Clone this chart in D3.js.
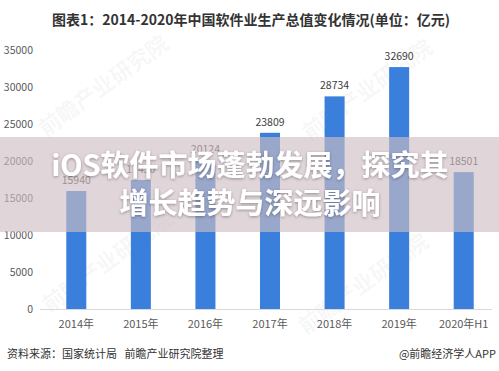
<!DOCTYPE html>
<html>
<head>
<meta charset="utf-8">
<script src="https://cdn.jsdelivr.net/npm/d3@7"></script>
<style>
  body { margin: 0; background: #fff; }
  svg { display: block; font-family: "Noto Sans CJK SC", "Noto Sans", sans-serif; }
</style>
</head>
<body>
<svg width="499" height="371"></svg>
<script>
// chart data
var years = ["2014年", "2015年", "2016年", "2017年", "2018年", "2019年", "2020年H1"];
var values = [15940, 17430, 20124, 23809, 28734, 32690, 18501];
var yTicks = [0, 5000, 10000, 15000, 20000, 25000, 30000, 35000];

var titleText = "图表1：2014-2020年中国软件业生产总值变化情况(单位：亿元)";
var overlayLines = ["iOS软件市场蓬勃发展，探究其", "增长趋势与深远影响"];
var sourceText = "资料来源：国家统计局   前瞻产业研究院整理";
var creditText = "@前瞻经济学人APP";

var svg = d3.select("svg");

var x = d3.scaleBand()
  .domain(years)
  .range([44, 496])
  .paddingInner(0.69)
  .paddingOuter(0.345);

var y = d3.scaleLinear()
  .domain([0, 35000])
  .range([309, 50]);

// faint watermarks
var marks = [[108, 92], [372, 96], [112, 268], [368, 290]];
svg.selectAll(".wm")
  .data(marks)
  .enter().append("text")
  .attr("class", "wm")
  .attr("transform", function(d) { return "translate(" + d[0] + "," + d[1] + ") rotate(-36)"; })
  .attr("text-anchor", "middle")
  .attr("font-size", 22)
  .attr("font-weight", "bold")
  .attr("fill", "#000")
  .attr("fill-opacity", 0.05)
  .text("前瞻产业研究院");

// title
svg.append("text")
  .attr("x", 251)
  .attr("y", 25)
  .attr("text-anchor", "middle")
  .attr("font-size", 14)
  .attr("font-weight", "bold")
  .attr("fill", "#333")
  .text(titleText);

// y tick labels
svg.selectAll(".ytick")
  .data(yTicks)
  .enter().append("text")
  .attr("class", "ytick")
  .attr("x", 33)
  .attr("y", function(d) { return y(d); })
  .attr("dy", "0.35em")
  .attr("text-anchor", "end")
  .attr("font-size", 10.5)
  .attr("fill", "#595959")
  .text(function(d) { return d; });

// baseline
svg.append("line")
  .attr("x1", 40).attr("x2", 492)
  .attr("y1", y(0) + 0.5).attr("y2", y(0) + 0.5)
  .attr("stroke", "#d9d9d9")
  .attr("stroke-width", 1);

// bars
svg.selectAll(".bar")
  .data(values)
  .enter().append("rect")
  .attr("class", "bar")
  .attr("x", function(d, i) { return x(years[i]); })
  .attr("width", x.bandwidth())
  .attr("y", function(d) { return y(d); })
  .attr("height", function(d) { return y(0) - y(d); })
  .attr("fill", "#3a7fdb");

// value labels
svg.selectAll(".val")
  .data(values)
  .enter().append("text")
  .attr("class", "val")
  .attr("x", function(d, i) { return x(years[i]) + x.bandwidth() / 2; })
  .attr("y", function(d) { return y(d) - 7; })
  .attr("text-anchor", "middle")
  .attr("font-size", 10.5)
  .attr("fill", "#404040")
  .text(function(d) { return d; });

// x labels
svg.selectAll(".xlab")
  .data(years)
  .enter().append("text")
  .attr("class", "xlab")
  .attr("x", function(d) { return x(d) + x.bandwidth() / 2; })
  .attr("y", 328)
  .attr("text-anchor", "middle")
  .attr("font-size", 11)
  .attr("fill", "#595959")
  .text(function(d) { return d; });

// footer
svg.append("text")
  .attr("x", 7).attr("y", 358)
  .attr("font-size", 11)
  .attr("fill", "#333")
  .attr("xml:space", "preserve")
  .text(sourceText);

svg.append("text")
  .attr("x", 496).attr("y", 358)
  .attr("text-anchor", "end")
  .attr("font-size", 11)
  .attr("fill", "#333")
  .text(creditText);

// translucent band with headline on top
svg.append("rect")
  .attr("x", 0).attr("y", 137)
  .attr("width", 499).attr("height", 95)
  .attr("fill", "rgb(207,190,194)")
  .attr("fill-opacity", 0.64);

var defs = svg.append("defs");
defs.append("filter")
  .attr("id", "sh")
  .attr("x", "-10%").attr("y", "-30%").attr("width", "120%").attr("height", "160%")
  .append("feDropShadow")
  .attr("dx", 0).attr("dy", 1).attr("stdDeviation", 1.5)
  .attr("flood-color", "#000").attr("flood-opacity", 0.35);

svg.selectAll(".head")
  .data(overlayLines)
  .enter().append("text")
  .attr("class", "head")
  .attr("x", 250)
  .attr("y", function(d, i) { return 176 + i * 38; })
  .attr("text-anchor", "middle")
  .attr("font-size", 29)
  .attr("font-weight", "bold")
  .attr("fill", "#fff")
  .attr("filter", "url(#sh)")
  .text(function(d) { return d; });
</script>
</body>
</html>
